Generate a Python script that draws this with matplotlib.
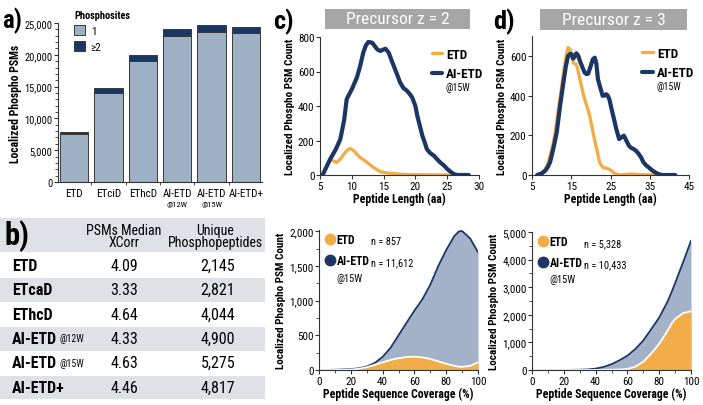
import numpy as np
import matplotlib
matplotlib.use("Agg")
import matplotlib.pyplot as plt
import matplotlib.font_manager as fm
from matplotlib.lines import Line2D
from matplotlib.patches import Rectangle
from matplotlib.ticker import StrMethodFormatter, MultipleLocator

# pick a narrow font if one is installed, the original uses a condensed face
font_name, font_stretch = 'Liberation Sans', 'normal'
entries = [(f.name, f.stretch, f.weight) for f in fm.fontManager.ttflist]
for pref in ['Roboto Condensed', 'Liberation Sans Narrow', 'Open Sans Condensed', 'Noto Sans',
             'Open Sans', 'Roboto', 'DejaVu Sans', 'Lato', 'Inter']:
    hits = [e for e in entries if e[0] == pref and
            ('ondensed' in pref or 'Narrow' in pref or 'condensed' in str(e[1]))]
    if hits:
        font_name = pref
        st = [e[1] for e in hits if 'condensed' in str(e[1])]
        font_stretch = st[0] if st else 'normal'
        break
plt.rcParams['font.family'] = [font_name, 'DejaVu Sans']
plt.rcParams['font.stretch'] = font_stretch

NAVY = '#1b3564'
ORANGE = '#f2ad48'
LIGHT = '#9db0c4'
FILL = '#a3b2c8'
BAND = '#e0e1e7'
BANNER = '#a6a6a6'

# ---- panel a : phospho PSMs per method
methods = ['ETD', 'ETciD', 'EThcD', 'AI-ETD', 'AI-ETD', 'AI-ETD+']
method_sub = ['', '', '', '@12W', '@15W', '']
one_site = [7520, 14000, 19100, 22900, 23580, 23420]
multi_site = [370, 790, 850, 1200, 1040, 950]

# ---- panel b : table
tab_rows = ['ETD', 'ETcaD', 'EThcD', 'AI-ETD', 'AI-ETD', 'AI-ETD+']
tab_sub = ['', '', '', '@12W', '@15W', '']
median_xcorr = ['4.09', '3.33', '4.64', '4.33', '4.63', '4.46']
unique_pp = ['2,145', '2,821', '4,044', '4,900', '5,275', '4,817']

# ---- panel c/d top : peptide length distributions
len_z2_aietd_x = [5.4, 6.6, 7.5, 8.2, 8.8, 9.2, 10.0, 10.8, 11.3, 11.8, 12.2, 12.6, 13.2, 13.6, 14.0, 14.5,
                  15.0, 15.3, 15.8, 16.2, 16.6, 17.1, 17.6, 18.1, 18.7, 19.1, 19.5, 20.0, 20.3, 20.7, 21.1,
                  21.5, 21.8, 22.3, 22.9, 23.4, 23.9, 24.5, 25.0, 25.5, 26.0, 26.6, 28.4]
len_z2_aietd_y = [0, 92, 150, 208, 320, 440, 497, 565, 630, 709, 750, 771, 767, 748, 728, 719,
                  728, 732, 709, 670, 632, 585, 536, 505, 487, 470, 449, 400, 343, 285, 227,
                  185, 150, 128, 112, 92, 73, 55, 35, 20, 6, 0, 0]
len_z2_etd_x = [6.6, 7.1, 7.6, 8.2, 8.7, 9.2, 9.7, 10.3, 10.8, 11.3, 11.9, 12.4, 13.4, 14.5, 15.5, 17.1,
                18.7, 21.0, 25.5]
len_z2_etd_y = [92, 82, 73, 92, 118, 141, 154, 141, 120, 102, 87, 73, 44, 19, 12, 6,
                2, 1, 0]

len_z3_etd_x = [6.7, 7.6, 8.4, 9.0, 9.6, 10.3, 10.9, 11.5, 12.1, 12.8, 13.4, 13.8, 14.2, 14.7, 15.1, 15.5,
                15.9, 16.3, 16.8, 17.2, 17.8, 18.4, 19.1, 19.7, 20.3, 20.9, 21.6, 22.2, 23.0, 24.0, 24.7,
                25.9, 27.2, 28.8, 30.6, 32.5, 36.5]
len_z3_etd_y = [0, 12, 30, 58, 97, 150, 214, 300, 382, 480, 566, 610, 642, 633, 600, 566,
                560, 558, 520, 482, 430, 382, 340, 298, 240, 181, 120, 64, 39, 34, 30,
                10, 0, 3, 5, 2, 0]
len_z3_aietd_x = [6.3, 7.5, 8.4, 9.0, 9.6, 10.4, 11.3, 12.1, 13.0, 13.6, 14.2, 14.7, 15.1, 15.5, 15.9, 16.3,
                  16.8, 17.2, 17.8, 18.4, 18.9, 19.3, 19.9, 20.5, 21.0, 21.4, 21.8, 22.4, 23.0, 23.5,
                  23.9, 24.3, 24.7, 25.3, 25.9, 26.5, 27.2, 27.8, 28.4, 29.0, 29.7, 30.3, 30.9, 31.6,
                  32.2, 32.8, 33.4, 34.0, 34.7, 35.5, 36.4, 37.2, 38.1, 41.5]
len_z3_aietd_y = [0, 8, 22, 40, 64, 130, 214, 340, 466, 545, 600, 610, 608, 586, 598, 613,
                  600, 575, 545, 516, 508, 510, 545, 583, 591, 560, 482, 440, 399, 400,
                  407, 400, 382, 330, 281, 230, 181, 190, 198, 175, 147, 136, 131, 120,
                  106, 88, 64, 50, 39, 25, 13, 5, 0, 0]

# ---- panel c/d bottom : sequence coverage
cov_x = [0, 10, 20, 25, 30, 35, 40, 45, 50, 55, 60, 65, 70, 75, 80, 85, 88, 90, 95, 100]
cov_z2_aietd = [0, 3, 12, 25, 50, 100, 190, 320, 500, 680, 856, 1020, 1230, 1500, 1730, 1930, 2000,
                2005, 1900, 1700]
cov_z2_etd = [0, 0, 5, 18, 40, 75, 110, 145, 170, 188, 192, 182, 160, 125, 90, 60, 48, 45, 60, 110]
cov_z3_aietd = [0, 0, 2, 5, 10, 20, 50, 110, 210, 350, 520, 760, 1070, 1480, 1900, 2450, 2850,
                3150, 3900, 4680]
cov_z3_etd = [0, 0, 0, 0, 0, 0, 2, 5, 10, 20, 36, 120, 300, 600, 950, 1400, 1700, 1850, 2060, 2130]
cov_n_z2 = ['n = 857', 'n = 11,612']
cov_n_z3 = ['n = 5,328', 'n = 10,433']

W, H = 703, 406
fig = plt.figure(figsize=(W / 100, H / 100), dpi=100)
fig.patch.set_facecolor('white')


def px_axes(l, t, r, b):
    return fig.add_axes([l / W, 1 - b / H, (r - l) / W, (b - t) / H])


def style(ax):
    for s in ['top', 'right']:
        ax.spines[s].set_visible(False)
    for s in ['left', 'bottom']:
        ax.spines[s].set_color('#333333')
        ax.spines[s].set_linewidth(0.8)
    ax.tick_params(direction='out', length=3, width=0.8, colors='#333333', labelsize=8, pad=1,
                   labelcolor='black')
    ax.tick_params(which='minor', length=2, width=0.6, colors='#333333')


# ================= a)
axa = px_axes(58, 24, 262, 183)
xpos = np.arange(len(methods))
b1 = axa.bar(xpos, one_site, 0.82, color=LIGHT, edgecolor='#3a3a3a', linewidth=0.7, label='1')
b2 = axa.bar(xpos, multi_site, 0.82, bottom=one_site, color=NAVY, edgecolor='#3a3a3a',
             linewidth=0.7, label='\u22652')
axa.set_xlim(-0.47, 5.47)
axa.set_ylim(0, 25000)
style(axa)
axa.tick_params(axis='y', labelsize=7.5)
axa.yaxis.set_major_locator(MultipleLocator(5000))
axa.yaxis.set_minor_locator(MultipleLocator(1000))
axa.yaxis.set_major_formatter(StrMethodFormatter('{x:,.0f}'))
axa.set_xticks(xpos)
axa.set_xticklabels(methods, fontsize=8)
axa.xaxis.set_minor_locator(MultipleLocator(0.5))
axa.tick_params(axis='x', which='major', length=0, pad=4)
for i, s in enumerate(method_sub):
    if s:
        axa.text(i, -0.14, s, transform=axa.get_xaxis_transform(), ha='center', va='center',
                 fontsize=6)
axa.set_ylabel('Localized Phospho PSMs', fontsize=8.5, fontweight='bold', labelpad=2)
leg = axa.legend(handles=[b1, b2], title='Phosphosites', loc='upper left',
                 bbox_to_anchor=(64 / W, 1 - 1 / H), bbox_transform=fig.transFigure,
                 frameon=False, fontsize=8, handlelength=1.0,
                 handleheight=1.0, handletextpad=0.5, labelspacing=0.45,
                 title_fontproperties={'size': 7.5, 'weight': 'bold'})
leg._legend_box.align = 'left'
fig.text(2 / W, 1 - 21 / H, 'a)', fontsize=18, fontweight='bold', va='center', ha='left')

# ================= b) table
axb = px_axes(0, 217, 265, 404)
axb.set_xlim(0, 265)
axb.set_ylim(404, 217)
axb.axis('off')
row_top = 254
row_h = 24.4
axb.axhspan(219, 253, color=BAND, lw=0)
for i in range(len(tab_rows)):
    y0 = row_top + i * row_h
    if i % 2 == 1:
        axb.axhspan(y0 + 0.5, y0 + row_h, color=BAND, lw=0)
    yc = y0 + row_h / 2
    t = axb.text(12, yc, tab_rows[i], fontsize=11.5, fontweight='bold', va='center', ha='left')
    if tab_sub[i]:
        axb.annotate(tab_sub[i], xy=(1, 0.5), xycoords=t, xytext=(2, 0),
                     textcoords='offset points', fontsize=7, va='center', ha='left')
    axb.text(124, yc, median_xcorr[i], fontsize=11.5, va='center', ha='center')
    axb.text(218, yc, unique_pp[i], fontsize=11.5, va='center', ha='center')
axb.text(124, 237, 'PSMs Median\nXCorr', fontsize=10, va='center', ha='center', linespacing=0.9)
axb.text(215, 237, 'Unique\nPhosphopeptides', fontsize=10, va='center', ha='center',
         linespacing=0.9)
fig.text(4 / W, 1 - 236 / H, 'b)', fontsize=22, fontweight='bold', va='center', ha='left')


# ================= c) / d) top
def banner(l, t, r, b, txt):
    fig.patches.append(Rectangle((l / W, 1 - b / H), (r - l) / W, (b - t) / H,
                                 transform=fig.transFigure, color=BANNER, lw=0))
    fig.text((l + r) / 2 / W, 1 - (t + b) / 2 / H, txt, color='white', fontsize=12.5,
             ha='center', va='center')


def len_panel(box, xs, ys, xlim, ylim, yticks, xticks):
    ax = px_axes(*box)
    ax.plot(xs[0], ys[0], color=ORANGE, lw=2.4, solid_capstyle='round', solid_joinstyle='round',
            label='ETD')
    ax.plot(xs[1], ys[1], color=NAVY, lw=3.0, solid_capstyle='round', solid_joinstyle='round',
            label='AI-ETD')
    ax.set_xlim(*xlim)
    ax.set_ylim(*ylim)
    ax.set_yticks(yticks)
    ax.set_xticks(xticks)
    style(ax)
    ax.set_xlabel('Peptide Length (aa)', fontsize=8.5, fontweight='bold', labelpad=1)
    ax.set_ylabel('Localized Phospho PSM Count', fontsize=8, fontweight='bold', labelpad=2)
    ax.legend(loc='upper left', bbox_to_anchor=(0.67, 0.96), frameon=False,
              prop={'size': 9.5, 'weight': 'bold'},
              handlelength=0.8, handletextpad=0.3, labelspacing=0.5, borderaxespad=0)
    ax.text(0.79, 0.64, '@15W', transform=ax.transAxes, fontsize=7, ha='left', va='center')
    return ax


len_panel((320, 38, 479, 176), [len_z2_etd_x, len_z2_aietd_x], [len_z2_etd_y, len_z2_aietd_y],
          (5, 30), (0, 800), [0, 200, 400, 600, 800], [5, 10, 15, 20, 25, 30])
len_panel((532, 37, 689, 176), [len_z3_etd_x, len_z3_aietd_x], [len_z3_etd_y, len_z3_aietd_y],
          (5, 45), (0, 700), [0, 200, 400, 600], [5, 15, 25, 35, 45])
banner(325, 10, 470, 30, 'Precursor z = 2')
banner(540, 10, 687, 31, 'Precursor z = 3')
fig.text(273 / W, 1 - 22 / H, 'c)', fontsize=19, fontweight='bold', va='center', ha='left')
fig.text(493 / W, 1 - 22 / H, 'd)', fontsize=19, fontweight='bold', va='center', ha='left')


# ================= c) / d) bottom
def cov_panel(box, ya, ye, ylim, ystep, ntxt):
    ax = px_axes(*box)
    ax.fill_between(cov_x, ya, color=FILL, lw=0)
    ax.plot(cov_x, ya, color=NAVY, lw=1.3)
    ax.fill_between(cov_x, ye, color=ORANGE, lw=0)
    ax.plot(cov_x, ye, color='white', lw=1.3)
    ax.set_xlim(0, 100)
    ax.set_ylim(*ylim)
    ax.yaxis.set_major_locator(MultipleLocator(ystep))
    ax.yaxis.set_minor_locator(MultipleLocator(ystep / 2))
    ax.yaxis.set_major_formatter(StrMethodFormatter('{x:,.0f}'))
    ax.xaxis.set_major_locator(MultipleLocator(20))
    ax.xaxis.set_minor_locator(MultipleLocator(10))
    style(ax)
    ax.set_xlabel('Peptide Sequence Coverage (%)', fontsize=8.5, fontweight='bold', labelpad=1)
    ax.set_ylabel('Localized Phospho PSM Count', fontsize=8, fontweight='bold', labelpad=2)
    h1 = Line2D([], [], ls='', marker='o', ms=7.5, color=ORANGE)
    h2 = Line2D([], [], ls='', marker='o', ms=7.5, color=NAVY)
    ax.legend([h1, h2], ['ETD', 'AI-ETD'], loc='upper left', bbox_to_anchor=(0.0, 1.03),
              frameon=False, prop={'size': 8.5, 'weight': 'bold'}, handlelength=0.7,
              handletextpad=0.2, labelspacing=0.7, borderaxespad=0.2)
    ax.text(0.33, 0.92, ntxt[0], transform=ax.transAxes, fontsize=7.5, va='center')
    ax.text(0.33, 0.77, ntxt[1], transform=ax.transAxes, fontsize=7.5, va='center')
    ax.text(0.107, 0.66, '@15W', transform=ax.transAxes, fontsize=7.5, va='center')
    return ax


cov_panel((319, 231, 478, 371), cov_z2_aietd, cov_z2_etd, (0, 2020), 500, cov_n_z2)
cov_panel((532, 233, 691, 371), cov_z3_aietd, cov_z3_etd, (0, 5000), 1000, cov_n_z3)

fig.savefig('out.png', dpi=100)
